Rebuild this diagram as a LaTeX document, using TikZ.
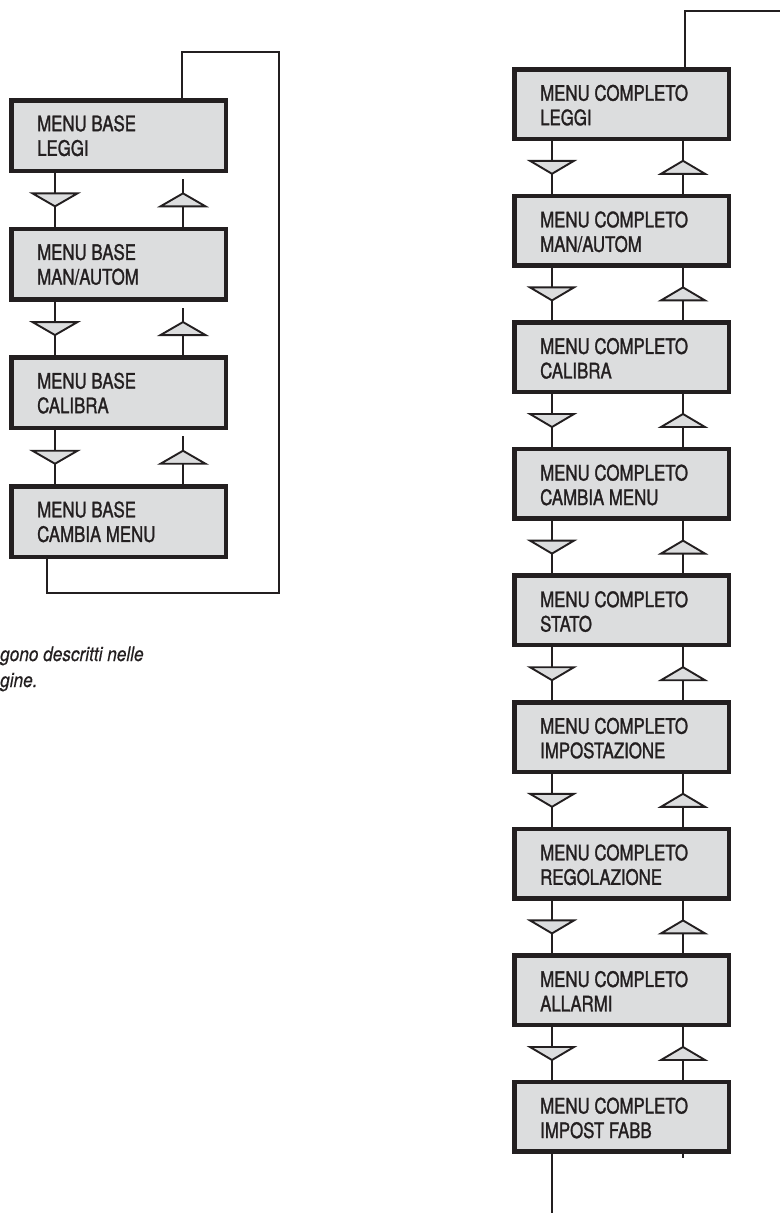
\documentclass[tikz,border=0pt]{standalone}
\usepackage{fontspec}
\setmainfont{TeX Gyre Heros}[FakeStretch=0.79,FakeBold=1.3]
\newfontfamily\notefont{TeX Gyre Heros}[FakeStretch=0.86,FakeBold=0.4]
\usetikzlibrary{calc}
\definecolor{boxgray}{HTML}{DCDDDE}
\definecolor{ink}{HTML}{231F20}
\begin{document}
\begin{tikzpicture}[x=1pt,y=-1pt,
  menubox/.style={draw=ink,fill=boxgray,line width=4.5pt,minimum width=214.5pt,minimum height=70.5pt,inner sep=0pt,anchor=north west},
  menutext/.style={anchor=base west,inner sep=0pt,text=ink,font=\fontsize{21.3}{21.3}\selectfont},
  notetext/.style={anchor=base west,inner sep=0pt,text=ink,font=\notefont\itshape\fontsize{20}{20}\selectfont},
  conn/.style={draw=ink,line width=2.6pt},
  tri/.style={draw=ink,fill=boxgray,line width=1.9pt,line join=miter},
]
\useasboundingbox (0,0) rectangle (780,1213);

% ---------- left column (MENU BASE) ----------
\foreach \k in {1,...,4}{
  \node[menubox] (b\k) at (9,{98+128.7*(\k-1)}) {};
}
\node[menutext] (b1x) at ($(b1.north west)+(28,33.2)$) {MENU BASE};
\node[menutext] (b1y) at ($(b1.north west)+(28,57.8)$) {LEGGI};
\node[menutext] (b2x) at ($(b2.north west)+(28,33.2)$) {MENU BASE};
\node[menutext] (b2y) at ($(b2.north west)+(28,57.8)$) {MAN/AUTOM};
\node[menutext] (b3x) at ($(b3.north west)+(28,33.2)$) {MENU BASE};
\node[menutext] (b3y) at ($(b3.north west)+(28,57.8)$) {CALIBRA};
\node[menutext] (b4x) at ($(b4.north west)+(28,33.2)$) {MENU BASE};
\node[menutext] (b4y) at ($(b4.north west)+(28,57.8)$) {CAMBIA MENU};

\coordinate (ldx) at (55,0);
\coordinate (lux) at (183,0);
\foreach \i/\j in {1/2,2/3,3/4}{
  \draw[conn] (b\i.south -| ldx) -- (b\j.north -| ldx);
  \coordinate (md) at ($(b\i.south -| ldx)!0.5!(b\j.north -| ldx)$);
  \draw[tri] ($(md)+(-22.5,-6.5)$) -- ($(md)+(22.5,-6.5)$) -- ($(md)+(0,6.5)$) -- cycle;
  \draw[conn] (b\j.north -| lux) -- ($(b\i.south -| lux)+(0,6)$);
  \coordinate (mu) at ($(b\i.south -| lux)!0.5!(b\j.north -| lux)$);
  \draw[tri] ($(mu)+(0,-6.5)$) -- ($(mu)+(22.5,6.5)$) -- ($(mu)+(-22.5,6.5)$) -- cycle;
}
\coordinate (llb) at (47,593);
\coordinate (lrb) at (279,593);
\coordinate (lrt) at (279,52);
\coordinate (llt) at (182,52);
\draw[conn] (b4.south -| llb) -- (llb) -- (lrb) -- (lrt) -- (llt) -- (b1.north -| llt);

\node[notetext] (n1) at (0,661) {gono descritti nelle};
\node[notetext] (n2) at (0,687) {gine.};

% ---------- right column (MENU COMPLETO) ----------
\foreach \k in {1,...,9}{
  \node[menubox,minimum height=69.5pt] (c\k) at (512,{67+126.6*(\k-1)}) {};
}
\node[menutext] (c1x) at ($(c1.north west)+(28,33.7)$) {MENU COMPLETO};
\node[menutext] (c1y) at ($(c1.north west)+(28,58.2)$) {LEGGI};
\node[menutext] (c2x) at ($(c2.north west)+(28,33.7)$) {MENU COMPLETO};
\node[menutext] (c2y) at ($(c2.north west)+(28,58.2)$) {MAN/AUTOM};
\node[menutext] (c3x) at ($(c3.north west)+(28,33.7)$) {MENU COMPLETO};
\node[menutext] (c3y) at ($(c3.north west)+(28,58.2)$) {CALIBRA};
\node[menutext] (c4x) at ($(c4.north west)+(28,33.7)$) {MENU COMPLETO};
\node[menutext] (c4y) at ($(c4.north west)+(28,58.2)$) {CAMBIA MENU};
\node[menutext] (c5x) at ($(c5.north west)+(28,33.7)$) {MENU COMPLETO};
\node[menutext] (c5y) at ($(c5.north west)+(28,58.2)$) {STATO};
\node[menutext] (c6x) at ($(c6.north west)+(28,33.7)$) {MENU COMPLETO};
\node[menutext] (c6y) at ($(c6.north west)+(28,58.2)$) {IMPOSTAZIONE};
\node[menutext] (c7x) at ($(c7.north west)+(28,33.7)$) {MENU COMPLETO};
\node[menutext] (c7y) at ($(c7.north west)+(28,58.2)$) {REGOLAZIONE};
\node[menutext] (c8x) at ($(c8.north west)+(28,33.7)$) {MENU COMPLETO};
\node[menutext] (c8y) at ($(c8.north west)+(28,58.2)$) {ALLARMI};
\node[menutext] (c9x) at ($(c9.north west)+(28,33.7)$) {MENU COMPLETO};
\node[menutext] (c9y) at ($(c9.north west)+(28,58.2)$) {IMPOST FABB};

\coordinate (rdx) at (552,0);
\coordinate (rux) at (683,0);
\foreach \i/\j in {1/2,2/3,3/4,4/5,5/6,6/7,7/8,8/9}{
  \draw[conn] (c\i.south -| rdx) -- (c\j.north -| rdx);
  \coordinate (md) at ($(c\i.south -| rdx)!0.5!(c\j.north -| rdx)$);
  \draw[tri] ($(md)+(-22,-6.5)$) -- ($(md)+(22,-6.5)$) -- ($(md)+(0,6.5)$) -- cycle;
  \draw[conn] (c\j.north -| rux) -- (c\i.south -| rux);
  \coordinate (mu) at ($(c\i.south -| rux)!0.5!(c\j.north -| rux)$);
  \draw[tri] ($(mu)+(0,-6.5)$) -- ($(mu)+(22,6.5)$) -- ($(mu)+(-22,6.5)$) -- cycle;
}
\coordinate (rtop) at (685,11);
\coordinate (redge) at (780,11);
\draw[conn] (c1.north -| rtop) -- (rtop) -- (redge);
\coordinate (rbot) at (552,1213);
\draw[conn] (c9.south -| rbot) -- (rbot);
\coordinate (rstub) at (683,1158);
\draw[conn] (c9.south -| rstub) -- (rstub);
\end{tikzpicture}
\end{document}
